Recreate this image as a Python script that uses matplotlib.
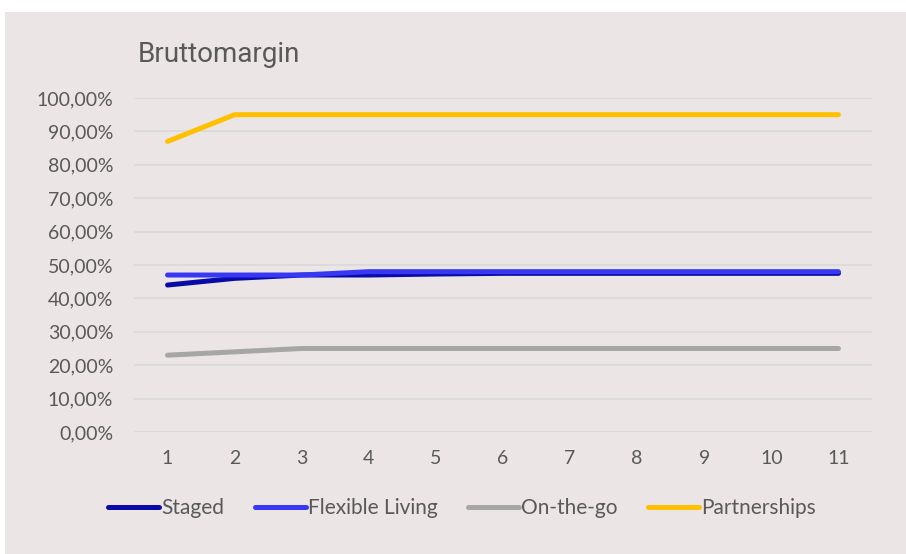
import numpy as np
import matplotlib.pyplot as plt
from matplotlib.patches import Rectangle
from matplotlib.ticker import FuncFormatter

# data
periods = [1, 2, 3, 4, 5, 6, 7, 8, 9, 10, 11]
staged = [44, 46, 47, 47, 47.3, 47.5, 47.5, 47.5, 47.5, 47.5, 47.5]
flexible = [47, 47, 47, 48, 48, 48, 48, 48, 48, 48, 48]
onthego = [23, 24, 25, 25, 25, 25, 25, 25, 25, 25, 25]
partnerships = [87, 95, 95, 95, 95, 95, 95, 95, 95, 95, 95]

series = [
    ('Staged', staged, '#0A0AA6'),
    ('Flexible Living', flexible, '#3838F4'),
    ('On-the-go', onthego, '#A6A6A6'),
    ('Partnerships', partnerships, '#FFC000'),
]

bg = '#EBE5E5'
txt = '#595959'
plt.rcParams['font.family'] = ['Lato', 'DejaVu Sans']

W, H = 906, 554
fig = plt.figure(figsize=(W/100, H/100), dpi=100, facecolor='white')
fig.patches.append(Rectangle((5/W, 0), 1, 1 - 12/H, transform=fig.transFigure,
                             facecolor=bg, edgecolor='none', zorder=-10))

ax = fig.add_axes([134/W, 1 - 432/H, (872-134)/W, (432-98)/H])
ax.set_facecolor(bg)
ax.patch.set_alpha(0)

for name, vals, col in series:
    ax.plot(periods, vals, color=col, lw=3.6, label=name,
            solid_capstyle='round', solid_joinstyle='round')

ax.set_xlim(0.5, 11.5)
ax.set_ylim(0, 100)
ax.set_xticks(periods)
ax.set_yticks(np.arange(0, 101, 10))
ax.yaxis.set_major_formatter(FuncFormatter(lambda v, p: f'{v:.2f}%'.replace('.', ',')))
ax.grid(axis='y', color='#D9D9D9', lw=1.2)
ax.set_axisbelow(True)
for s in ax.spines.values():
    s.set_visible(False)
ax.tick_params(length=0, labelsize=14, colors=txt)
ax.tick_params(axis='x', pad=13)
ax.tick_params(axis='y', pad=15)

fig.text(138/W, 1 - 55/H, 'Bruttomargin', fontsize=20, color=txt,
         family='Roboto', va='center', ha='left')

fig.legend(loc='center', bbox_to_anchor=(462/W, 1 - 508/H), ncol=4, frameon=False,
           fontsize=15, handlelength=2.45, handletextpad=0.1, columnspacing=1.45,
           labelcolor=txt)

fig.savefig('out.png', dpi=100, facecolor=fig.get_facecolor())
